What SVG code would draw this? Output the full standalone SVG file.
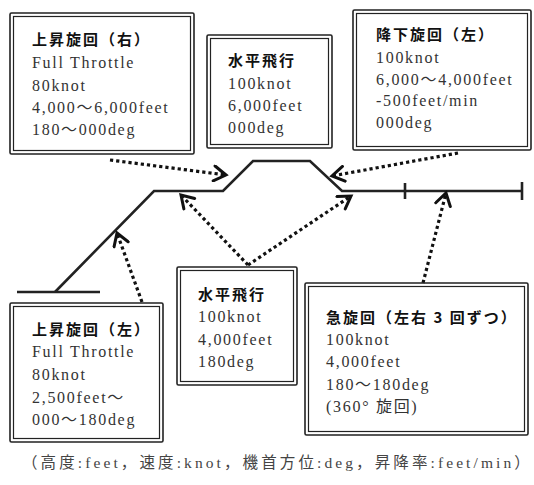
<svg xmlns="http://www.w3.org/2000/svg" width="534" height="485" viewBox="0 0 534 485">
<defs>
<style>
.bo{fill:none;stroke:#222;stroke-width:1.6}
.bi{fill:#fff;stroke:#222;stroke-width:1.2}
.h{font-family:"Noto Sans CJK JP","Noto Sans CJK SC",sans-serif;font-weight:bold;font-size:15px;letter-spacing:2px;fill:#111}
.t{font-family:"Liberation Serif","Noto Sans CJK JP",serif;font-size:16px;letter-spacing:1.7px;fill:#333}
.trk{fill:none;stroke:#222;stroke-width:2.6}
.dot{fill:none;stroke:#111;stroke-width:3.2;stroke-dasharray:3.2 3;marker-end:url(#ah)}
.cap{font-family:"Liberation Serif","Noto Sans CJK JP",serif;font-size:15.5px;letter-spacing:3.1px;fill:#444}
</style>
<marker id="ah" viewBox="0 0 18 18" refX="14" refY="9" markerWidth="18" markerHeight="18" markerUnits="userSpaceOnUse" orient="auto">
<path d="M2,1.5 L14,9 L2,16.5" fill="none" stroke="#111" stroke-width="3" stroke-linecap="round"/>
</marker>
</defs>
<rect width="534" height="485" fill="#fff"/>

<g id="track">
<line class="trk" x1="17" y1="292" x2="100" y2="292"/>
<path class="trk" d="M55,292 L154,191 L223,191 L253,161 L310,161 L342,191 L522,191"/>
<line class="trk" x1="405" y1="183" x2="405" y2="199"/>
<line class="trk" x1="522" y1="182" x2="522" y2="200"/>
</g>

<g id="connectors">
<line class="dot" x1="110" y1="160" x2="226" y2="175"/>
<line class="dot" x1="458" y1="153" x2="332" y2="176"/>
<line class="dot" x1="248" y1="265" x2="181" y2="195"/>
<line class="dot" x1="248" y1="265" x2="351" y2="196"/>
<line class="dot" x1="142" y1="302" x2="117" y2="233"/>
<line class="dot" x1="423" y1="283" x2="446" y2="193"/>
</g>

<g id="box-climb-right">
<rect class="bo" x="10" y="13" width="184" height="141" rx="1.5"/>
<rect class="bi" x="13.5" y="16.5" width="177" height="134"/>
<text class="h" x="32" y="45">上昇旋回（右）</text>
<text class="t" x="32" y="68">Full Throttle</text>
<text class="t" x="32" y="91">80knot</text>
<text class="t" x="32" y="113">4,000～6,000feet</text>
<text class="t" x="32" y="135">180～000deg</text>
</g>

<g id="box-level-top">
<rect class="bo" x="207" y="35" width="125" height="113" rx="1.5"/>
<rect class="bi" x="210.5" y="38.5" width="118" height="106"/>
<text class="h" x="228" y="66">水平飛行</text>
<text class="t" x="228" y="89">100knot</text>
<text class="t" x="228" y="111">6,000feet</text>
<text class="t" x="228" y="133">000deg</text>
</g>

<g id="box-descend-left">
<rect class="bo" x="353" y="10" width="178" height="140" rx="1.5"/>
<rect class="bi" x="356.5" y="13.5" width="171" height="133"/>
<text class="h" x="376" y="40">降下旋回（左）</text>
<text class="t" x="376" y="63">100knot</text>
<text class="t" x="376" y="85">6,000～4,000feet</text>
<text class="t" x="376" y="106">-500feet/min</text>
<text class="t" x="376" y="128">000deg</text>
</g>

<g id="box-climb-left">
<rect class="bo" x="10" y="303" width="153" height="139" rx="1.5"/>
<rect class="bi" x="13.5" y="306.5" width="146" height="132"/>
<text class="h" x="32" y="335">上昇旋回（左）</text>
<text class="t" x="32" y="357">Full Throttle</text>
<text class="t" x="32" y="380">80knot</text>
<text class="t" x="32" y="403">2,500feet～</text>
<text class="t" x="32" y="425">000～180deg</text>
</g>

<g id="box-level-bottom">
<rect class="bo" x="177" y="267" width="120" height="118" rx="1.5"/>
<rect class="bi" x="180.5" y="270.5" width="113" height="111"/>
<text class="h" x="198" y="300">水平飛行</text>
<text class="t" x="198" y="322">100knot</text>
<text class="t" x="198" y="345">4,000feet</text>
<text class="t" x="198" y="367">180deg</text>
</g>

<g id="box-steep-turn">
<rect class="bo" x="305" y="283" width="223" height="152" rx="1.5"/>
<rect class="bi" x="308.5" y="286.5" width="216" height="145"/>
<text class="h" x="326" y="323">急旋回（左右 3 回ずつ）</text>
<text class="t" x="326" y="345">100knot</text>
<text class="t" x="326" y="367">4,000feet</text>
<text class="t" x="326" y="390">180～180deg</text>
<text class="t" x="326" y="412">(360°  旋回)</text>
</g>

<g id="caption">
<text class="cap" x="22" y="468">（高度:feet，速度:knot，機首方位:deg，昇降率:feet/min）</text>
</g>
</svg>
